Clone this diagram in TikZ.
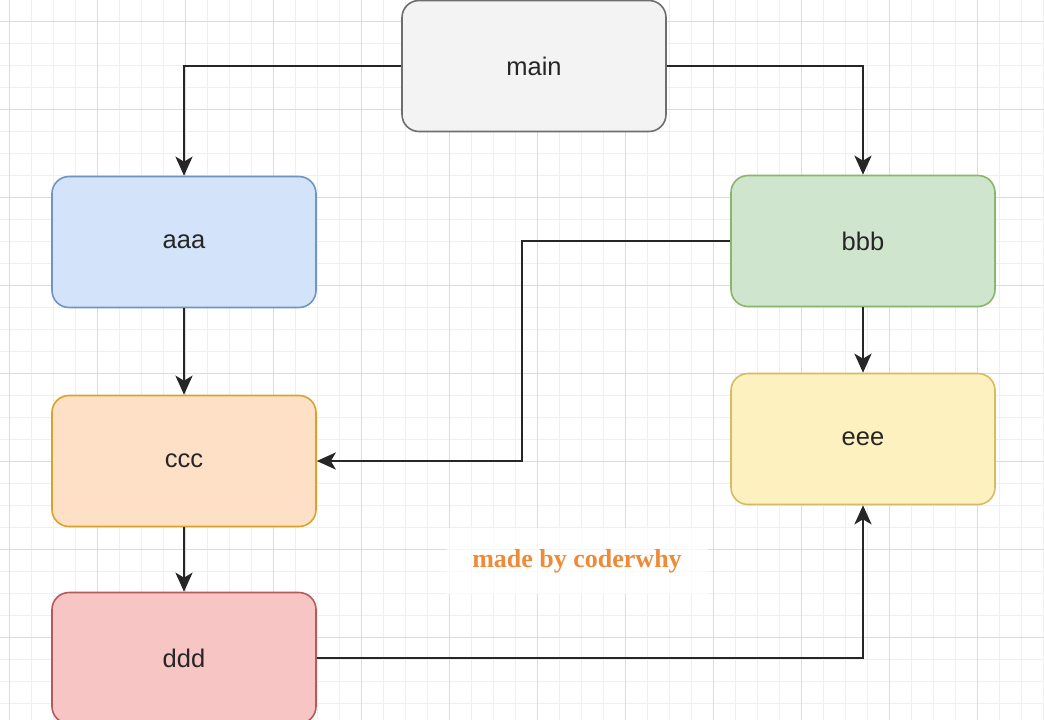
\documentclass[tikz,border=0pt]{standalone}
\usepackage{fontspec}
\setmainfont{Liberation Sans}
\newfontfamily\serifmark{Liberation Serif}
\usetikzlibrary{arrows.meta}
\definecolor{gridminor}{HTML}{EFEFEF}
\definecolor{gridmajor}{HTML}{DCDCDC}
\definecolor{linec}{HTML}{262626}
\definecolor{mainF}{HTML}{F3F3F3}\definecolor{mainD}{HTML}{6E6E6E}
\definecolor{aF}{HTML}{D2E3FA}\definecolor{aD}{HTML}{7094C4}
\definecolor{bF}{HTML}{CFE5CE}\definecolor{bD}{HTML}{88B66C}
\definecolor{cF}{HTML}{FEE0C6}\definecolor{cD}{HTML}{D9A22A}
\definecolor{dF}{HTML}{F6C5C4}\definecolor{dD}{HTML}{B45A58}
\definecolor{eF}{HTML}{FEF1C0}\definecolor{eD}{HTML}{D6BB62}
\definecolor{markc}{HTML}{EE8A38}
\tikzset{
  box/.style={draw, line width=1.6pt, rounded corners=17pt, minimum width=264pt, minimum height=131pt, inner sep=0pt, font=\fontsize{25.5}{25.5}\selectfont, text=black!85},
  conn/.style={draw=linec, line width=2.6pt, -{Stealth[length=19pt,width=17pt,inset=5pt]}},
}
\begin{document}
\begin{tikzpicture}[x=1pt,y=-1pt]
\useasboundingbox (0,0) rectangle (1044,720);
\fill[white] (0,0) rectangle (1044,720);
\begin{scope}
\clip (0,0) rectangle (1044,720);
\foreach \x in {-13,9,...,1044} \draw[gridminor, line width=0.8pt] (\x,0) -- (\x,720);
\foreach \y in {-1,21,...,720} \draw[gridminor, line width=0.8pt] (0,\y) -- (1044,\y);
\foreach \x in {9,97,...,1044} \draw[gridmajor, line width=1pt] (\x,0) -- (\x,720);
\foreach \y in {21,109,...,720} \draw[gridmajor, line width=1pt] (0,\y) -- (1044,\y);
\end{scope}
\node[box, fill=mainF, draw=mainD] (main) at (534,66) {main};
\node[box, fill=aF, draw=aD] (aaa) at (184,242) {aaa};
\node[box, fill=bF, draw=bD] (bbb) at (863,241) {bbb};
\node[box, fill=cF, draw=cD] (ccc) at (184,461) {ccc};
\node[box, fill=eF, draw=eD] (eee) at (863,439) {eee};
\node[box, fill=dF, draw=dD] (ddd) at (184,658) {ddd};
\coordinate (k1) at (522,241);
\coordinate (k2) at (522,461);
\draw[conn] (main.west) -| (aaa.north);
\draw[conn] (main.east) -| (bbb.north);
\draw[conn] (aaa.south) -- (ccc.north);
\draw[conn] (ccc.south) -- (ddd.north);
\draw[conn] (bbb.south) -- (eee.north);
\draw[conn] (bbb.west) -- (k1) -- (k2) -- (ccc.east);
\draw[conn] (ddd.east) -| (eee.south);
\node[fill=white, fill opacity=0.75, text opacity=1, minimum width=262pt, minimum height=66pt, text=markc, font=\serifmark\bfseries\fontsize{26}{26}\selectfont] (mark) at (577,561) {made by coderwhy};
\end{tikzpicture}
\end{document}
